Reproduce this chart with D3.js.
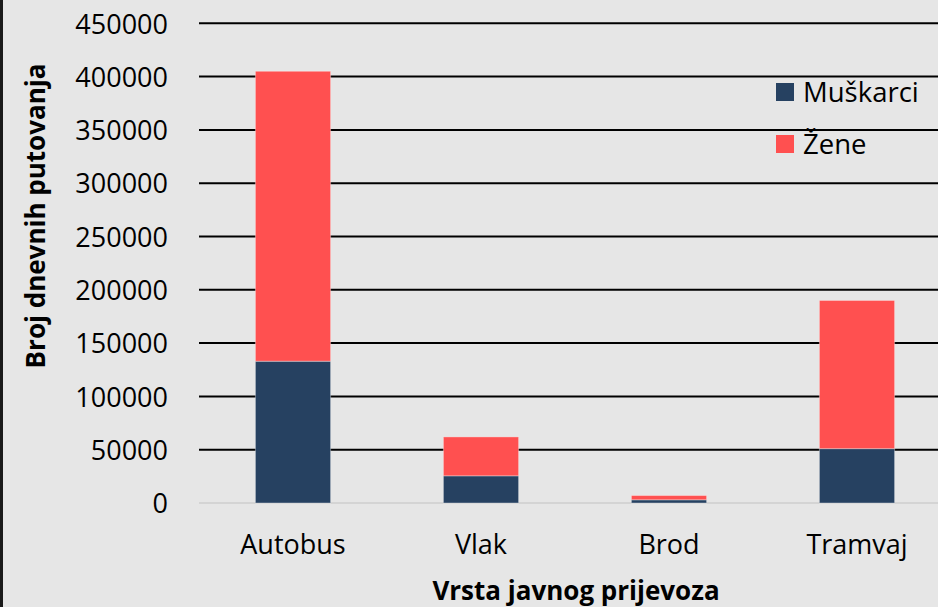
<!DOCTYPE html>
<html><head><meta charset="utf-8">
<script src="https://cdn.jsdelivr.net/npm/d3@7"></script>
<style>
html,body{margin:0;padding:0;background:#e6e6e6;}
svg{display:block;}
text{font-family:"Open Sans","Noto Sans",sans-serif;fill:#000;}
</style></head>
<body>
<svg id="chart" width="938" height="607"></svg>
<script>
const categories = ["Autobus", "Vlak", "Brod", "Tramvaj"];
const seriesNames = ["Muškarci", "Žene"];
const muskarci = [133000, 25500, 3000, 51000];
const zene = [272000, 36500, 4000, 139000];
const yTicks = [0, 50000, 100000, 150000, 200000, 250000, 300000, 350000, 400000, 450000];
const colors = ["#264161", "#ff5050"];

const svg = d3.select("#chart");
svg.append("rect").attr("width", 938).attr("height", 607).attr("fill", "#e6e6e6");
svg.append("rect").attr("x", 0).attr("y", 0).attr("width", 3).attr("height", 607).attr("fill", "#1a1a1a");

const x = d3.scaleBand().domain(categories).range([199, 951]).paddingInner(0.6).paddingOuter(0.3);
const y = d3.scaleLinear().domain([0, 450000]).range([503, 23.3]);

// gridlines
svg.append("g").selectAll("line").data(yTicks).join("line")
  .attr("x1", 199).attr("x2", 938)
  .attr("y1", d => y(d)).attr("y2", d => y(d))
  .attr("stroke", d => d === 0 ? "#d4d4d4" : "#000")
  .attr("stroke-width", 2);

// y tick labels
const yAxis = d3.axisLeft(y).tickValues(yTicks).tickSize(0).tickPadding(0).tickFormat(d3.format("d"));
const gy = svg.append("g").attr("transform", "translate(168,0)").call(yAxis);
gy.select(".domain").remove();
gy.selectAll("text").attr("font-size", "27px").attr("font-family", "'Open Sans','Noto Sans',sans-serif").attr("fill", "#000").attr("dy", "0.36em");

// stacked bars
const data = categories.map((c, i) => ({cat: c, "Muškarci": muskarci[i], "Žene": zene[i]}));
const stack = d3.stack().keys(seriesNames)(data);
svg.append("g").selectAll("g").data(stack).join("g")
  .attr("fill", (d, i) => colors[i])
  .selectAll("rect").data(d => d).join("rect")
  .attr("x", d => x(d.data.cat))
  .attr("width", x.bandwidth())
  .attr("y", d => y(d[1]))
  .attr("height", d => y(d[0]) - y(d[1]))
  .attr("stroke", "rgba(255,255,255,0.35)")
  .attr("stroke-width", 1);

// x labels
const xAxis = d3.axisBottom(x).tickSize(0).tickPadding(0);
const gx = svg.append("g").attr("transform", "translate(0,535)").call(xAxis);
gx.select(".domain").remove();
gx.selectAll("text").attr("font-size", "27px").attr("font-family", "'Open Sans','Noto Sans',sans-serif").attr("fill", "#000").attr("dy", "0.71em");

// axis titles
svg.append("text").attr("x", 576).attr("y", 600).attr("text-anchor", "middle")
  .attr("font-size", "26px").attr("font-weight", "bold").text("Vrsta javnog prijevoza");
svg.append("text").attr("transform", "translate(45,216) rotate(-90)").attr("text-anchor", "middle")
  .attr("font-size", "26px").attr("font-weight", "bold").text("Broj dnevnih putovanja");

// legend
const leg = svg.append("g").selectAll("g").data(seriesNames).join("g")
  .attr("transform", (d, i) => `translate(776,${83 + i * 52})`);
leg.append("rect").attr("width", 18).attr("height", 18).attr("fill", (d, i) => colors[i]);
leg.append("text").attr("x", 27).attr("y", 9).attr("dy", "0.36em").attr("font-size", "27.5px").text(d => d);
</script>
</body></html>
